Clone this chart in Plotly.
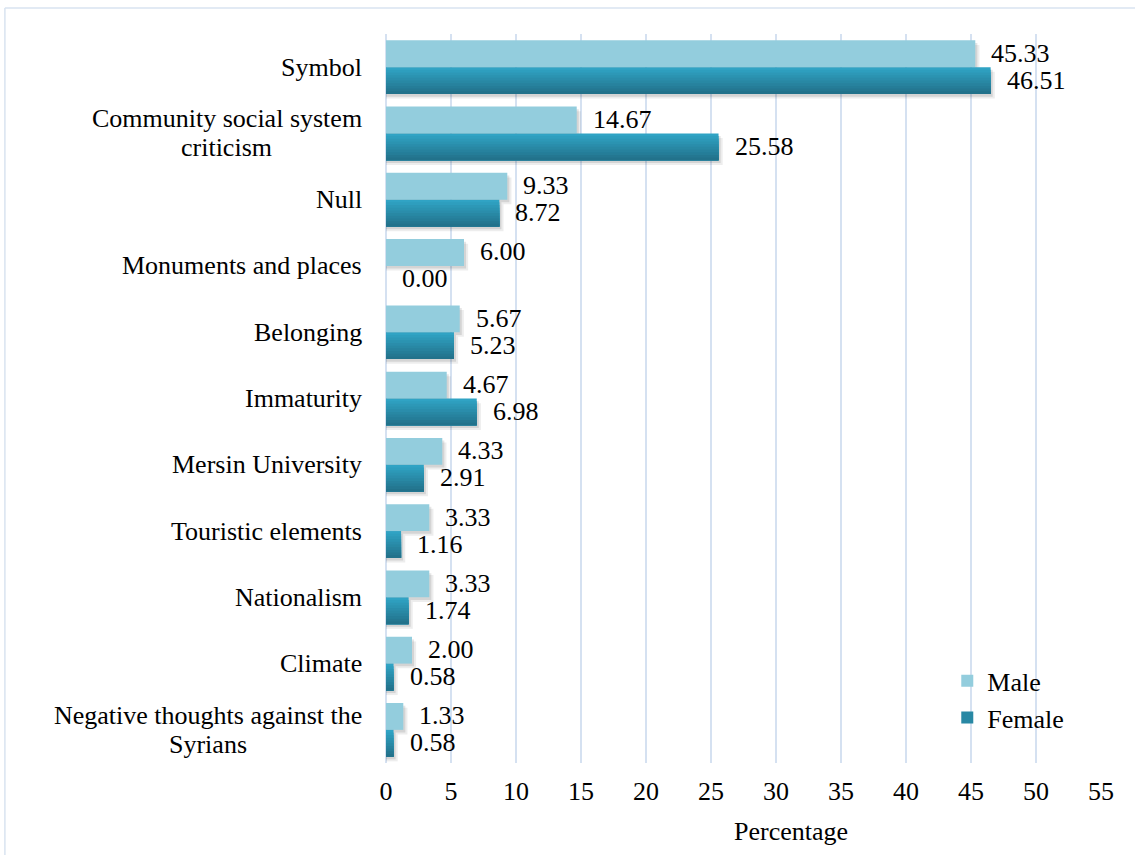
import plotly.graph_objects as go

# Themes named in responses, split by respondent gender (percent)
categories = [
    "Symbol",
    "Community social system<br>criticism",
    "Null",
    "Monuments and places",
    "Belonging",
    "Immaturity",
    "Mersin University",
    "Touristic elements",
    "Nationalism",
    "Climate",
    "Negative thoughts against the<br>Syrians",
]
male = [45.33, 14.67, 9.33, 6.00, 5.67, 4.67, 4.33, 3.33, 3.33, 2.00, 1.33]
female = [46.51, 25.58, 8.72, 0.00, 5.23, 6.98, 2.91, 1.16, 1.74, 0.58, 0.58]
x_ticks = list(range(0, 60, 5))

FONT = "Liberation Serif, Times New Roman, serif"
MALE_COLOR = "#93CDDD"
FEMALE_TOP = (0x30, 0xA3, 0xC4)
FEMALE_BOTTOM = (0x22, 0x72, 0x8B)
GRID = "#D5E1F1"
HALF = 0.405          # height of one bar in category units
N_STRIPS = 10         # vertical shading steps of the female bars
LINE_GAP = 29         # pixel spacing between lines of a wrapped category label
LABEL_PAD = 24        # gap between category labels and the value axis


def mix(a, b, t):
    return "rgb({},{},{})".format(*[round(a[i] + (b[i] - a[i]) * t) for i in range(3)])


def txt(size=26):
    return dict(family=FONT, size=size, color="#000")


fig = go.Figure()

# soft drop shadows under the bars
for vals, off in ((male, -HALF), (female, 0.0)):
    for dx, dy, alpha in ((0.32, 0.07, 0.07), (0.16, 0.04, 0.10)):
        fig.add_trace(go.Bar(
            y=categories, x=[v + dx if v > 0 else 0 for v in vals],
            orientation="h", offset=off + dy, width=HALF,
            marker=dict(color=f"rgba(0,0,0,{alpha})", line=dict(width=0)),
            showlegend=False, hoverinfo="skip",
        ))

fig.add_trace(go.Bar(
    y=categories, x=male, orientation="h", name="Male",
    offset=-HALF, width=HALF, legendrank=1,
    marker=dict(color=MALE_COLOR, line=dict(width=0)),
))

# female bars: stacked strips shade from light teal (top) to dark teal (bottom)
step = HALF / N_STRIPS
for k in range(N_STRIPS):
    fig.add_trace(go.Bar(
        y=categories, x=female, orientation="h", name="Female",
        offset=k * step, width=HALF - k * step,
        marker=dict(color=mix(FEMALE_TOP, FEMALE_BOTTOM, k / (N_STRIPS - 1)),
                    line=dict(width=0)),
        showlegend=(k == N_STRIPS // 2), legendrank=2,
    ))

annotations = []
# value labels just past the end of each bar
for cat, m, f in zip(categories, male, female):
    annotations.append(dict(x=m, y=cat, xref="x", yref="y", text=f"{m:.2f}",
                            showarrow=False, xanchor="left", xshift=14, yshift=14,
                            font=txt()))
    annotations.append(dict(x=f, y=cat, xref="x", yref="y", text=f"{f:.2f}",
                            showarrow=False, xanchor="left", xshift=14, yshift=-13,
                            font=txt()))

# category labels, one annotation per line; lines of a wrapped label share a centre
for cat in categories:
    lines = cat.split("<br>")
    for i, line in enumerate(lines):
        dy = ((len(lines) - 1) / 2 - i) * LINE_GAP
        annotations.append(dict(x=0, y=cat, xref="paper", yref="y", text=line,
                                showarrow=False, xanchor="center",
                                xshift=-LABEL_PAD, yshift=dy,
                                font=txt(), name="cat"))

# axis title
annotations.append(dict(x=0.566, y=-0.094, xref="paper", yref="paper",
                        text="Percentage", showarrow=False,
                        xanchor="center", yanchor="middle", font=txt()))

# chart frame (left and top edges)
shapes = [
    dict(type="line", xref="paper", yref="paper", x0=-0.533, x1=1.2,
         y0=1.0357, y1=1.0357, line=dict(color="#D9E3F0", width=1.5)),
    dict(type="line", xref="paper", yref="paper", x0=-0.533, x1=-0.533,
         y0=1.0357, y1=-0.2, line=dict(color="#D9E3F0", width=1.5)),
]

fig.update_layout(
    width=1135, height=855,
    margin=dict(l=386, r=34, t=34, b=92),
    paper_bgcolor="white", plot_bgcolor="white",
    barmode="overlay",
    font=txt(),
    xaxis=dict(range=[0, 55], tickvals=x_ticks, showgrid=True,
               gridcolor=GRID, gridwidth=1.5, zeroline=True,
               zerolinecolor=GRID, zerolinewidth=1.5, showline=False,
               ticks="", ticklabelstandoff=10, tickfont=txt()),
    yaxis=dict(categoryorder="array", categoryarray=categories,
               autorange="reversed", showticklabels=False, showgrid=False,
               zeroline=False, showline=False, ticks=""),
    legend=dict(x=0.785, y=0.145, xanchor="left", yanchor="top",
                bgcolor="rgba(0,0,0,0)", traceorder="normal", font=txt()),
    annotations=annotations,
    shapes=shapes,
    showlegend=True,
)

# After drawing, move each category label block so that its widest line ends
# LABEL_PAD pixels left of the value axis (shorter lines stay centred under it).
fig.write_html("out.html", include_plotlyjs=True, post_script="""
var gd = document.getElementsByClassName('plotly-graph-div')[0];
(function () {
  var anns = gd.layout.annotations;
  var groups = {};
  gd.querySelectorAll('.annotation').forEach(function (el, idx) {
    var a = anns[idx];
    if (!a || a.name !== 'cat') return;
    var w = el.querySelector('text').getBBox().width;
    (groups[a.y] = groups[a.y] || []).push({idx: idx, w: w});
  });
  var upd = {};
  Object.keys(groups).forEach(function (k) {
    var g = groups[k];
    var maxw = Math.max.apply(null, g.map(function (o) { return o.w; }));
    g.forEach(function (o) {
      upd['annotations[' + o.idx + '].xshift'] = -%d - maxw / 2;
    });
  });
  if (Object.keys(upd).length) Plotly.relayout(gd, upd);
})();
""" % LABEL_PAD)
